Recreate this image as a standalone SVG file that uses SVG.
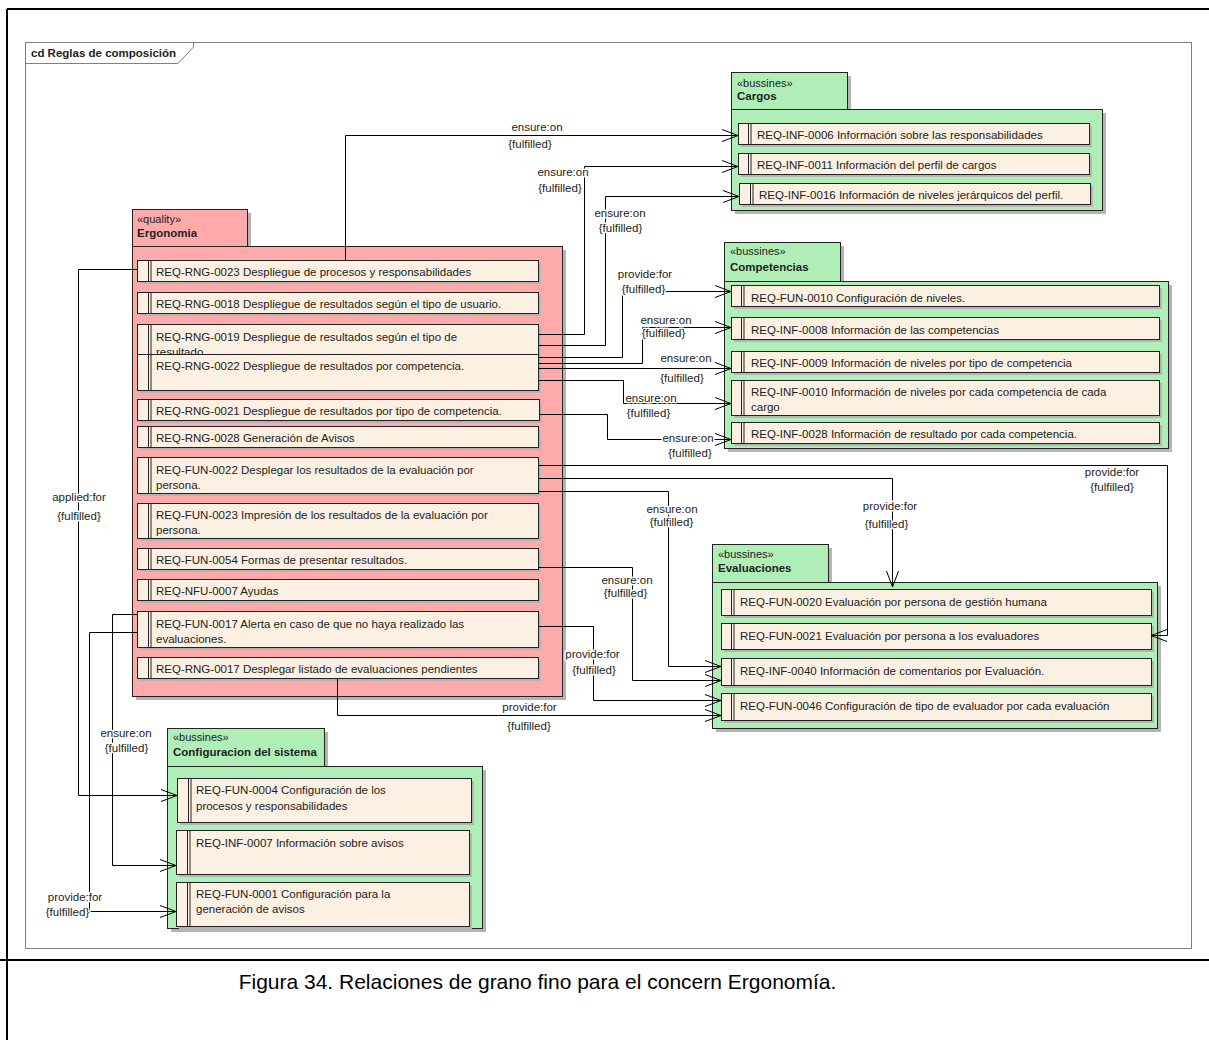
<svg xmlns="http://www.w3.org/2000/svg" width="1209" height="1040" viewBox="0 0 1209 1040">
<defs>
<marker id="arr" markerUnits="userSpaceOnUse" markerWidth="18" markerHeight="14" refX="16" refY="6" orient="auto" overflow="visible">
<path d="M0,0 L16,6 L0,12" fill="none" stroke="#000" stroke-width="1"/>
</marker>
</defs>
<style>
text{font-family:"Liberation Sans",Arial,sans-serif;font-size:11.5px;fill:#222}
.bold{font-weight:bold}
.st{font-size:11px}
.sh{fill:#b4b4b4;stroke:none}
.pk{stroke:#222;stroke-width:1}
.pink{fill:#ffaaaa}
.green{fill:#b0eeb8}
.it{fill:#fbf0e2;stroke:#222;stroke-width:1}
.dl{stroke:#222;stroke-width:1}
.cn{fill:none;stroke:#000;stroke-width:1}
.ar{marker-end:url(#arr)}
.lb{text-anchor:middle;stroke:#fff;stroke-width:3;paint-order:stroke;stroke-linejoin:round}
.cap{font-size:21px;fill:#000;text-anchor:middle}
</style>
<rect x="0" y="0" width="1209" height="1040" fill="#fff"/>
<!-- outer document border -->
<g id="page">
<line x1="7" y1="9" x2="1209" y2="9" stroke="#000" stroke-width="2"/>
<line x1="7" y1="9" x2="7" y2="1040" stroke="#000" stroke-width="2"/>
<line x1="0" y1="960" x2="1209" y2="960" stroke="#000" stroke-width="2"/>
<text class="cap" x="537.5" y="989">Figura 34. Relaciones de grano fino para el concern Ergonomía.</text>
</g>
<!-- diagram frame -->
<g id="frame">
<rect x="25.5" y="42.5" width="1166" height="906" fill="none" stroke="#808080"/>
<path d="M25.5,63.5 L178,63.5 L193.5,47 L193.5,42.5" fill="none" stroke="#808080"/>
<text class="bold" x="31" y="57">cd Reglas de composición</text>
</g>

<!-- Ergonomia -->
<g id="ergonomia">
<rect class="sh" x="136" y="213" width="115" height="37"/>
<rect class="sh" x="136" y="250" width="430" height="450"/>
<rect class="pk pink" x="132.5" y="209.5" width="115" height="37"/>
<rect class="pk pink" x="132.5" y="246.5" width="430" height="450"/>
<text class="st" x="137" y="223">«quality»</text>
<text class="bold" x="137" y="237">Ergonomia</text>
<g id="rng0023"><rect class="sh" x="140" y="263" width="401" height="21"/><rect class="it" x="137.5" y="260.5" width="401" height="21"/><line class="dl" x1="148.5" y1="260.5" x2="148.5" y2="281.5"/><line class="dl" x1="151" y1="260.5" x2="151" y2="281.5"/><text x="156" y="276">REQ-RNG-0023 Despliegue de procesos y responsabilidades</text></g>
<g id="rng0018"><rect class="sh" x="140" y="295" width="401" height="21"/><rect class="it" x="137.5" y="292.5" width="401" height="21"/><line class="dl" x1="148.5" y1="292.5" x2="148.5" y2="313.5"/><line class="dl" x1="151" y1="292.5" x2="151" y2="313.5"/><text x="156" y="308">REQ-RNG-0018 Despliegue de resultados según el tipo de usuario.</text></g>
<g id="rng0019"><rect class="sh" x="140" y="327" width="401" height="42"/><rect class="it" x="137.5" y="324.5" width="401" height="42"/><line class="dl" x1="148.5" y1="324.5" x2="148.5" y2="366.5"/><line class="dl" x1="151" y1="324.5" x2="151" y2="366.5"/><text x="156" y="340.5">REQ-RNG-0019 Despliegue de resultados según el tipo de</text><text x="156" y="355.5">resultado.</text></g>
<g id="rng0022"><rect class="sh" x="140" y="357" width="401" height="36"/><rect class="it" x="137.5" y="354.5" width="401" height="36"/><line class="dl" x1="148.5" y1="354.5" x2="148.5" y2="390.5"/><line class="dl" x1="151" y1="354.5" x2="151" y2="390.5"/><text x="156" y="369.5">REQ-RNG-0022 Despliegue de resultados por competencia.</text></g>
<g id="rng0021"><rect class="sh" x="140" y="402" width="402" height="21"/><rect class="it" x="137.5" y="399.5" width="402" height="21"/><line class="dl" x1="148.5" y1="399.5" x2="148.5" y2="420.5"/><line class="dl" x1="151" y1="399.5" x2="151" y2="420.5"/><text x="156" y="415">REQ-RNG-0021 Despliegue de resultados por tipo de competencia.</text></g>
<g id="rng0028"><rect class="sh" x="140" y="429" width="401" height="21"/><rect class="it" x="137.5" y="426.5" width="401" height="21"/><line class="dl" x1="148.5" y1="426.5" x2="148.5" y2="447.5"/><line class="dl" x1="151" y1="426.5" x2="151" y2="447.5"/><text x="156" y="442">REQ-RNG-0028 Generación de Avisos</text></g>
<g id="fun0022"><rect class="sh" x="140" y="460" width="401" height="36"/><rect class="it" x="137.5" y="457.5" width="401" height="36"/><line class="dl" x1="148.5" y1="457.5" x2="148.5" y2="493.5"/><line class="dl" x1="151" y1="457.5" x2="151" y2="493.5"/><text x="156" y="473.5">REQ-FUN-0022 Desplegar los resultados de la evaluación por</text><text x="156" y="488.5">persona.</text></g>
<g id="fun0023"><rect class="sh" x="140" y="506" width="401" height="35"/><rect class="it" x="137.5" y="503.5" width="401" height="35"/><line class="dl" x1="148.5" y1="503.5" x2="148.5" y2="538.5"/><line class="dl" x1="151" y1="503.5" x2="151" y2="538.5"/><text x="156" y="519">REQ-FUN-0023 Impresión de los resultados de la evaluación por</text><text x="156" y="534">persona.</text></g>
<g id="fun0054"><rect class="sh" x="140" y="551" width="401" height="21"/><rect class="it" x="137.5" y="548.5" width="401" height="21"/><line class="dl" x1="148.5" y1="548.5" x2="148.5" y2="569.5"/><line class="dl" x1="151" y1="548.5" x2="151" y2="569.5"/><text x="156" y="564">REQ-FUN-0054 Formas de presentar resultados.</text></g>
<g id="nfu0007"><rect class="sh" x="140" y="582" width="401" height="21"/><rect class="it" x="137.5" y="579.5" width="401" height="21"/><line class="dl" x1="148.5" y1="579.5" x2="148.5" y2="600.5"/><line class="dl" x1="151" y1="579.5" x2="151" y2="600.5"/><text x="156" y="595">REQ-NFU-0007 Ayudas</text></g>
<g id="fun0017"><rect class="sh" x="140" y="614" width="401" height="36"/><rect class="it" x="137.5" y="611.5" width="401" height="36"/><line class="dl" x1="148.5" y1="611.5" x2="148.5" y2="647.5"/><line class="dl" x1="151" y1="611.5" x2="151" y2="647.5"/><text x="156" y="627.5">REQ-FUN-0017 Alerta en caso de que no haya realizado las</text><text x="156" y="642.5">evaluaciones.</text></g>
<g id="rng0017"><rect class="sh" x="140" y="660" width="401" height="21"/><rect class="it" x="137.5" y="657.5" width="401" height="21"/><line class="dl" x1="148.5" y1="657.5" x2="148.5" y2="678.5"/><line class="dl" x1="151" y1="657.5" x2="151" y2="678.5"/><text x="156" y="673">REQ-RNG-0017 Desplegar listado de evaluaciones pendientes</text></g>
</g>

<!-- Cargos -->
<g id="cargos">
<rect class="sh" x="735" y="76" width="116" height="37"/>
<rect class="sh" x="735" y="113" width="371" height="101"/>
<rect class="pk green" x="731.5" y="72.5" width="116" height="37"/>
<rect class="pk green" x="731.5" y="109.5" width="371" height="101"/>
<text class="st" x="737" y="87">«bussines»</text>
<text class="bold" x="737" y="100">Cargos</text>
<g id="inf0006"><rect class="sh" x="741" y="126" width="351" height="21"/><rect class="it" x="738.5" y="123.5" width="351" height="21"/><line class="dl" x1="748.5" y1="123.5" x2="748.5" y2="144.5"/><line class="dl" x1="751" y1="123.5" x2="751" y2="144.5"/><text x="757" y="139">REQ-INF-0006 Información sobre las responsabilidades</text></g>
<g id="inf0011"><rect class="sh" x="741" y="156" width="351" height="21"/><rect class="it" x="738.5" y="153.5" width="351" height="21"/><line class="dl" x1="748.5" y1="153.5" x2="748.5" y2="174.5"/><line class="dl" x1="751" y1="153.5" x2="751" y2="174.5"/><text x="757" y="169">REQ-INF-0011 Información del perfil de cargos</text></g>
<g id="inf0016"><rect class="sh" x="742" y="186" width="351" height="21"/><rect class="it" x="739.5" y="183.5" width="351" height="21"/><line class="dl" x1="750.5" y1="183.5" x2="750.5" y2="204.5"/><line class="dl" x1="753" y1="183.5" x2="753" y2="204.5"/><text x="759" y="199">REQ-INF-0016 Información de niveles jerárquicos del perfil.</text></g>
</g>

<!-- Competencias -->
<g id="competencias">
<rect class="sh" x="728" y="246" width="116" height="39"/>
<rect class="sh" x="728" y="285" width="444" height="167"/>
<rect class="pk green" x="724.5" y="242.5" width="116" height="39"/>
<rect class="pk green" x="724.5" y="281.5" width="444" height="167"/>
<text class="st" x="730" y="255">«bussines»</text>
<text class="bold" x="730" y="271">Competencias</text>
<g id="fun0010"><rect class="sh" x="734" y="288" width="428" height="21"/><rect class="it" x="731.5" y="285.5" width="428" height="21"/><line class="dl" x1="741.5" y1="285.5" x2="741.5" y2="306.5"/><line class="dl" x1="744" y1="285.5" x2="744" y2="306.5"/><text x="751" y="301.5">REQ-FUN-0010 Configuración de niveles.</text></g>
<g id="inf0008"><rect class="sh" x="734" y="320" width="428" height="22"/><rect class="it" x="731.5" y="317.5" width="428" height="22"/><line class="dl" x1="741.5" y1="317.5" x2="741.5" y2="339.5"/><line class="dl" x1="744" y1="317.5" x2="744" y2="339.5"/><text x="751" y="333.5">REQ-INF-0008 Información de las competencias</text></g>
<g id="inf0009"><rect class="sh" x="734" y="354" width="428" height="21"/><rect class="it" x="731.5" y="351.5" width="428" height="21"/><line class="dl" x1="741.5" y1="351.5" x2="741.5" y2="372.5"/><line class="dl" x1="744" y1="351.5" x2="744" y2="372.5"/><text x="751" y="367">REQ-INF-0009 Información de niveles por tipo de competencia</text></g>
<g id="inf0010"><rect class="sh" x="734" y="383" width="428" height="35"/><rect class="it" x="731.5" y="380.5" width="428" height="35"/><line class="dl" x1="741.5" y1="380.5" x2="741.5" y2="415.5"/><line class="dl" x1="744" y1="380.5" x2="744" y2="415.5"/><text x="751" y="396">REQ-INF-0010 Información de niveles por cada competencia de cada</text><text x="751" y="411">cargo</text></g>
<g id="inf0028"><rect class="sh" x="734" y="425" width="428" height="21"/><rect class="it" x="731.5" y="422.5" width="428" height="21"/><line class="dl" x1="741.5" y1="422.5" x2="741.5" y2="443.5"/><line class="dl" x1="744" y1="422.5" x2="744" y2="443.5"/><text x="751" y="438">REQ-INF-0028 Información de resultado por cada competencia.</text></g>
</g>

<!-- Evaluaciones -->
<g id="evaluaciones">
<rect class="sh" x="716" y="548" width="116" height="38"/>
<rect class="sh" x="716" y="586" width="445" height="146"/>
<rect class="pk green" x="712.5" y="544.5" width="116" height="38"/>
<rect class="pk green" x="712.5" y="582.5" width="445" height="146"/>
<text class="st" x="718" y="558">«bussines»</text>
<text class="bold" x="718" y="572">Evaluaciones</text>
<g id="fun0020"><rect class="sh" x="724" y="592" width="430" height="26"/><rect class="it" x="721.5" y="589.5" width="430" height="26"/><line class="dl" x1="731.5" y1="589.5" x2="731.5" y2="615.5"/><line class="dl" x1="734" y1="589.5" x2="734" y2="615.5"/><text x="740" y="606">REQ-FUN-0020 Evaluación por persona de gestión humana</text></g>
<g id="fun0021"><rect class="sh" x="724" y="626" width="430" height="26"/><rect class="it" x="721.5" y="623.5" width="430" height="26"/><line class="dl" x1="731.5" y1="623.5" x2="731.5" y2="649.5"/><line class="dl" x1="734" y1="623.5" x2="734" y2="649.5"/><text x="740" y="640">REQ-FUN-0021 Evaluación por persona a los evaluadores</text></g>
<g id="inf0040"><rect class="sh" x="724" y="661" width="430" height="27"/><rect class="it" x="721.5" y="658.5" width="430" height="27"/><line class="dl" x1="731.5" y1="658.5" x2="731.5" y2="685.5"/><line class="dl" x1="734" y1="658.5" x2="734" y2="685.5"/><text x="740" y="675">REQ-INF-0040 Información de comentarios por Evaluación.</text></g>
<g id="fun0046"><rect class="sh" x="724" y="696" width="430" height="27"/><rect class="it" x="721.5" y="693.5" width="430" height="27"/><line class="dl" x1="731.5" y1="693.5" x2="731.5" y2="720.5"/><line class="dl" x1="734" y1="693.5" x2="734" y2="720.5"/><text x="740" y="710">REQ-FUN-0046 Configuración de tipo de evaluador por cada evaluación</text></g>
</g>

<!-- Configuracion del sistema -->
<g id="configuracion">
<rect class="sh" x="171" y="732" width="157" height="38"/>
<rect class="sh" x="171" y="770" width="315" height="162"/>
<rect class="pk green" x="167.5" y="728.5" width="157" height="38"/>
<rect class="pk green" x="167.5" y="766.5" width="315" height="162"/>
<text class="st" x="173" y="741">«bussines»</text>
<text class="bold" x="173" y="756">Configuracion del sistema</text>
<g id="fun0004"><rect class="sh" x="180" y="781" width="294" height="44"/><rect class="it" x="177.5" y="778.5" width="294" height="44"/><line class="dl" x1="188.5" y1="778.5" x2="188.5" y2="822.5"/><line class="dl" x1="191" y1="778.5" x2="191" y2="822.5"/><text x="196" y="794">REQ-FUN-0004 Configuración de los</text><text x="196" y="809.5">procesos y responsabilidades</text></g>
<g id="inf0007"><rect class="sh" x="179" y="833" width="293" height="44"/><rect class="it" x="176.5" y="830.5" width="293" height="44"/><line class="dl" x1="187.5" y1="830.5" x2="187.5" y2="874.5"/><line class="dl" x1="190" y1="830.5" x2="190" y2="874.5"/><text x="196" y="846.5">REQ-INF-0007 Información sobre avisos</text></g>
<g id="fun0001"><rect class="sh" x="179" y="885" width="293" height="44"/><rect class="it" x="176.5" y="882.5" width="293" height="44"/><line class="dl" x1="187.5" y1="882.5" x2="187.5" y2="926.5"/><line class="dl" x1="190" y1="882.5" x2="190" y2="926.5"/><text x="196" y="898">REQ-FUN-0001 Configuración para la</text><text x="196" y="913">generación de avisos</text></g>
</g>

<!-- connectors -->
<g id="connectors">
<path class="cn ar" d="M345.5,260 V135.5 H738"/>
<path class="cn ar" d="M538,334.5 H584.5 V166.5 H738"/>
<path class="cn ar" d="M538,345.5 H605.5 V196.5 H739"/>
<path class="cn ar" d="M538,357.5 H622.5 V291.5 H731"/>
<path class="cn ar" d="M538,363.5 H642.5 V327.5 H731"/>
<path class="cn ar" d="M538,368.5 H731"/>
<path class="cn ar" d="M538,380.5 H623.5 V403.5 H731"/>
<path class="cn ar" d="M539,414.5 H607.5 V439.5 H731"/>
<path class="cn ar" d="M538,465.5 H1167.5 V635.5 H1151"/>
<path class="cn ar" d="M538,478.5 H892.5 V587"/>
<path class="cn ar" d="M538,491.5 H668.5 V666.5 H721"/>
<path class="cn ar" d="M538,567.5 H632.5 V680.5 H721"/>
<path class="cn ar" d="M538,626.5 H593.5 V700.5 H721"/>
<path class="cn ar" d="M337.5,678 V715.5 H721"/>
<path class="cn ar" d="M137,269.5 H78.5 V795.5 H177"/>
<path class="cn ar" d="M137,614.5 H112.5 V865.5 H176"/>
<path class="cn ar" d="M137,632.5 H89.5 V911.5 H176"/>
<g id="labels">
<text class="lb" x="537" y="131">ensure:on</text><text class="lb" x="530" y="148">{fulfilled}</text>
<text class="lb" x="563" y="176">ensure:on</text><text class="lb" x="560" y="192">{fulfilled}</text>
<text class="lb" x="620" y="217">ensure:on</text><text class="lb" x="620.5" y="232">{fulfilled}</text>
<text class="lb" x="645" y="278">provide:for</text><text class="lb" x="643.5" y="293">{fulfilled}</text>
<text class="lb" x="666" y="324">ensure:on</text><text class="lb" x="663.5" y="337">{fulfilled}</text>
<text class="lb" x="686" y="362">ensure:on</text><text class="lb" x="682" y="382">{fulfilled}</text>
<text class="lb" x="651" y="401.5">ensure:on</text><text class="lb" x="648.5" y="417">{fulfilled}</text>
<text class="lb" x="688" y="441.5">ensure:on</text><text class="lb" x="690" y="457">{fulfilled}</text>
<text class="lb" x="1112" y="475.5">provide:for</text><text class="lb" x="1112" y="491">{fulfilled}</text>
<text class="lb" x="890" y="510">provide:for</text><text class="lb" x="886.5" y="528">{fulfilled}</text>
<text class="lb" x="672" y="512.5">ensure:on</text><text class="lb" x="671.5" y="525.5">{fulfilled}</text>
<text class="lb" x="627" y="584">ensure:on</text><text class="lb" x="625.5" y="596.5">{fulfilled}</text>
<text class="lb" x="592.5" y="658">provide:for</text><text class="lb" x="594" y="674">{fulfilled}</text>
<text class="lb" x="529.5" y="710.5">provide:for</text><text class="lb" x="529" y="730">{fulfilled}</text>
<text class="lb" x="79" y="501">applied:for</text><text class="lb" x="79" y="520">{fulfilled}</text>
<text class="lb" x="126" y="736.5">ensure:on</text><text class="lb" x="126.5" y="752">{fulfilled}</text>
<text class="lb" x="75" y="901">provide:for</text><text class="lb" x="67.5" y="916">{fulfilled}</text>
</g>
</g>
</svg>
